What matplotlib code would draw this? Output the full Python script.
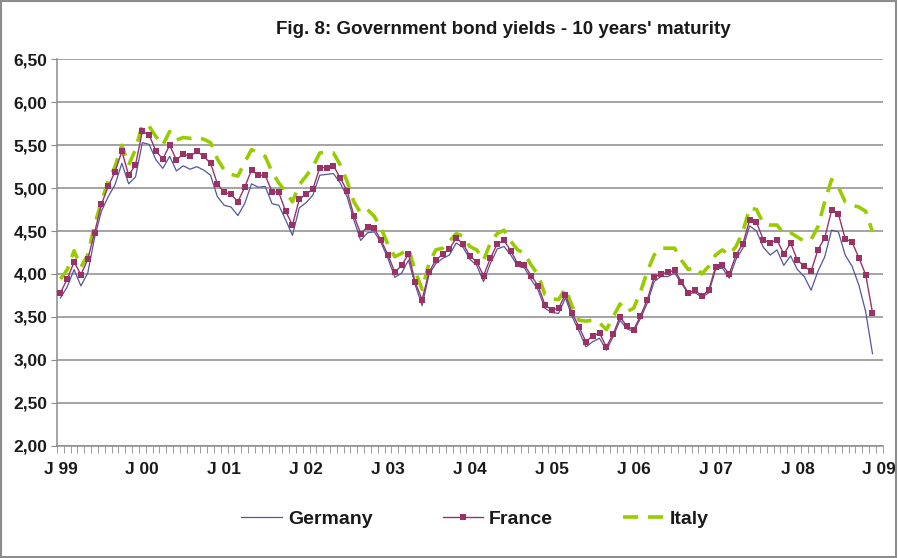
import matplotlib
matplotlib.use("Agg")
import matplotlib.pyplot as plt
from matplotlib.ticker import FixedLocator, FuncFormatter
from matplotlib.patches import Rectangle

# monthly data, Jan 1999 - Dec 2008
germany = [
    3.72, 3.85, 4.05, 3.86, 4.01, 4.42, 4.73, 4.90, 5.04, 5.29,
    5.05, 5.13, 5.53, 5.51, 5.33, 5.23, 5.37, 5.20, 5.26, 5.22,
    5.25, 5.21, 5.15, 4.90, 4.80, 4.78, 4.68, 4.82, 5.05, 5.01,
    5.02, 4.82, 4.80, 4.63, 4.45, 4.77, 4.83, 4.92, 5.15, 5.16,
    5.17, 5.06, 4.90, 4.63, 4.39, 4.48, 4.49, 4.36, 4.18, 3.96,
    4.01, 4.16, 3.87, 3.63, 3.99, 4.12, 4.18, 4.22, 4.36, 4.31,
    4.17, 4.10, 3.91, 4.12, 4.29, 4.32, 4.22, 4.09, 4.07, 3.93,
    3.81, 3.60, 3.55, 3.54, 3.72, 3.50, 3.33, 3.15, 3.21, 3.25,
    3.11, 3.27, 3.46, 3.36, 3.33, 3.48, 3.66, 3.91, 3.97, 3.97,
    4.01, 3.89, 3.77, 3.78, 3.73, 3.78, 4.05, 4.07, 3.95, 4.17,
    4.30, 4.56, 4.50, 4.31, 4.22, 4.28, 4.10, 4.21, 4.05, 3.97,
    3.81, 4.03, 4.20, 4.51, 4.49, 4.22, 4.09, 3.87, 3.56, 3.07,
]
france = [
    3.78, 3.94, 4.14, 3.99, 4.17, 4.48, 4.81, 5.02, 5.19, 5.43,
    5.15, 5.27, 5.66, 5.62, 5.43, 5.34, 5.50, 5.33, 5.40, 5.37,
    5.43, 5.37, 5.29, 5.05, 4.95, 4.93, 4.84, 5.01, 5.21, 5.15,
    5.15, 4.96, 4.95, 4.73, 4.57, 4.87, 4.93, 4.99, 5.24, 5.24,
    5.26, 5.12, 4.97, 4.68, 4.47, 4.55, 4.53, 4.39, 4.22, 4.02,
    4.10, 4.23, 3.90, 3.70, 4.02, 4.16, 4.23, 4.29, 4.42, 4.35,
    4.21, 4.14, 3.98, 4.18, 4.35, 4.39, 4.27, 4.12, 4.10, 3.98,
    3.86, 3.64, 3.58, 3.60, 3.76, 3.54, 3.38, 3.21, 3.28, 3.31,
    3.15, 3.30, 3.50, 3.39, 3.35, 3.51, 3.70, 3.96, 4.00, 4.02,
    4.04, 3.91, 3.78, 3.81, 3.74, 3.81, 4.08, 4.10, 4.00, 4.22,
    4.35, 4.63, 4.60, 4.40, 4.36, 4.40, 4.23, 4.36, 4.16, 4.09,
    4.03, 4.28, 4.42, 4.74, 4.70, 4.41, 4.37, 4.19, 3.99, 3.55,
]
italy = [
    3.94, 4.05, 4.27, 4.08, 4.22, 4.57, 4.84, 5.08, 5.25, 5.50,
    5.27, 5.45, 5.74, 5.72, 5.60, 5.50, 5.66, 5.56, 5.59, 5.58,
    5.59, 5.57, 5.53, 5.34, 5.21, 5.16, 5.14, 5.30, 5.45, 5.41,
    5.37, 5.19, 5.06, 4.96, 4.84, 5.04, 5.14, 5.25, 5.41, 5.42,
    5.41, 5.27, 5.08, 4.84, 4.71, 4.75, 4.67, 4.53, 4.34, 4.20,
    4.24, 4.30, 4.03, 3.82, 4.12, 4.28, 4.30, 4.38, 4.47, 4.44,
    4.32, 4.28, 4.16, 4.36, 4.47, 4.51, 4.38, 4.28, 4.24, 4.10,
    3.99, 3.76, 3.71, 3.70, 3.83, 3.62, 3.46, 3.45, 3.46, 3.43,
    3.35, 3.50, 3.65, 3.56, 3.60, 3.79, 4.03, 4.22, 4.30, 4.30,
    4.30, 4.16, 4.05, 4.08, 4.00, 4.09, 4.22, 4.28, 4.22, 4.32,
    4.49, 4.77, 4.75, 4.59, 4.57, 4.57, 4.47, 4.48, 4.43, 4.38,
    4.40, 4.55, 4.84, 5.10, 5.01, 4.84, 4.80, 4.78, 4.73, 4.49,
]
year_labels = ["J 99", "J 00", "J 01", "J 02", "J 03", "J 04",
               "J 05", "J 06", "J 07", "J 08", "J 09"]
y_ticks = [2.0, 2.5, 3.0, 3.5, 4.0, 4.5, 5.0, 5.5, 6.0, 6.5]

plt.rcParams["font.family"] = ["Liberation Sans", "DejaVu Sans"]

fig = plt.figure(figsize=(8.98, 5.58), dpi=100)
ax = fig.add_axes([0.0635, 0.2016, 0.9195, 0.6919])

x = list(range(len(france)))
ax.plot(x, germany, color="#55559f", lw=0.9, label="Germany", zorder=3)
ax.plot(x, france, color="#993366", lw=1.0, marker="s", markersize=5,
        markeredgewidth=0, label="France", zorder=4)
ax.plot(x, italy, color="#99cc00", lw=2.6, dashes=(4.2, 2.7),
        label="Italy", zorder=2)

ax.set_xlim(-0.5, 120.5)
ax.set_ylim(2.0, 6.5)

ax.set_yticks(y_ticks)
ax.yaxis.set_major_formatter(FuncFormatter(lambda v, p: f"{v:.2f}".replace(".", ",")))
ax.yaxis.grid(True, color="#8c8c8c", lw=1.1)
ax.set_axisbelow(True)

ax.xaxis.set_major_locator(FixedLocator([12 * i for i in range(len(year_labels))]))
ax.set_xticklabels(year_labels)
ax.xaxis.set_minor_locator(FixedLocator([i - 0.5 for i in range(122)]))
ax.tick_params(axis="x", which="major", length=0, pad=12, labelsize=12.5)
ax.tick_params(axis="x", which="minor", length=5, color="#8c8c8c", direction="out")
ax.tick_params(axis="y", length=4, color="#8c8c8c", labelsize=12.5, pad=3)
for lbl in ax.get_xticklabels() + ax.get_yticklabels():
    lbl.set_fontweight("bold")
    lbl.set_color("#1a1a1a")

for side in ["top", "right"]:
    ax.spines[side].set_visible(False)
for side in ["left", "bottom"]:
    ax.spines[side].set_color("#8c8c8c")
    ax.spines[side].set_linewidth(1.1)

fig.text(0.56, 0.948, "Fig. 8: Government bond yields - 10 years' maturity",
         ha="center", va="center", fontsize=13.5, fontweight="bold", color="#1a1a1a")

leg = fig.legend(loc="center", bbox_to_anchor=(0.529, 0.07), ncol=3, frameon=False,
                 fontsize=14, handlelength=2.1, columnspacing=3.6, handletextpad=0.3)
for t in leg.get_texts():
    t.set_fontweight("bold")
    t.set_color("#1a1a1a")

fig.patches.append(Rectangle((0.001, 0.002), 0.997, 0.996, transform=fig.transFigure,
                             fill=False, edgecolor="#8c8c8c", lw=1.5))

fig.savefig("out.png", dpi=100)
